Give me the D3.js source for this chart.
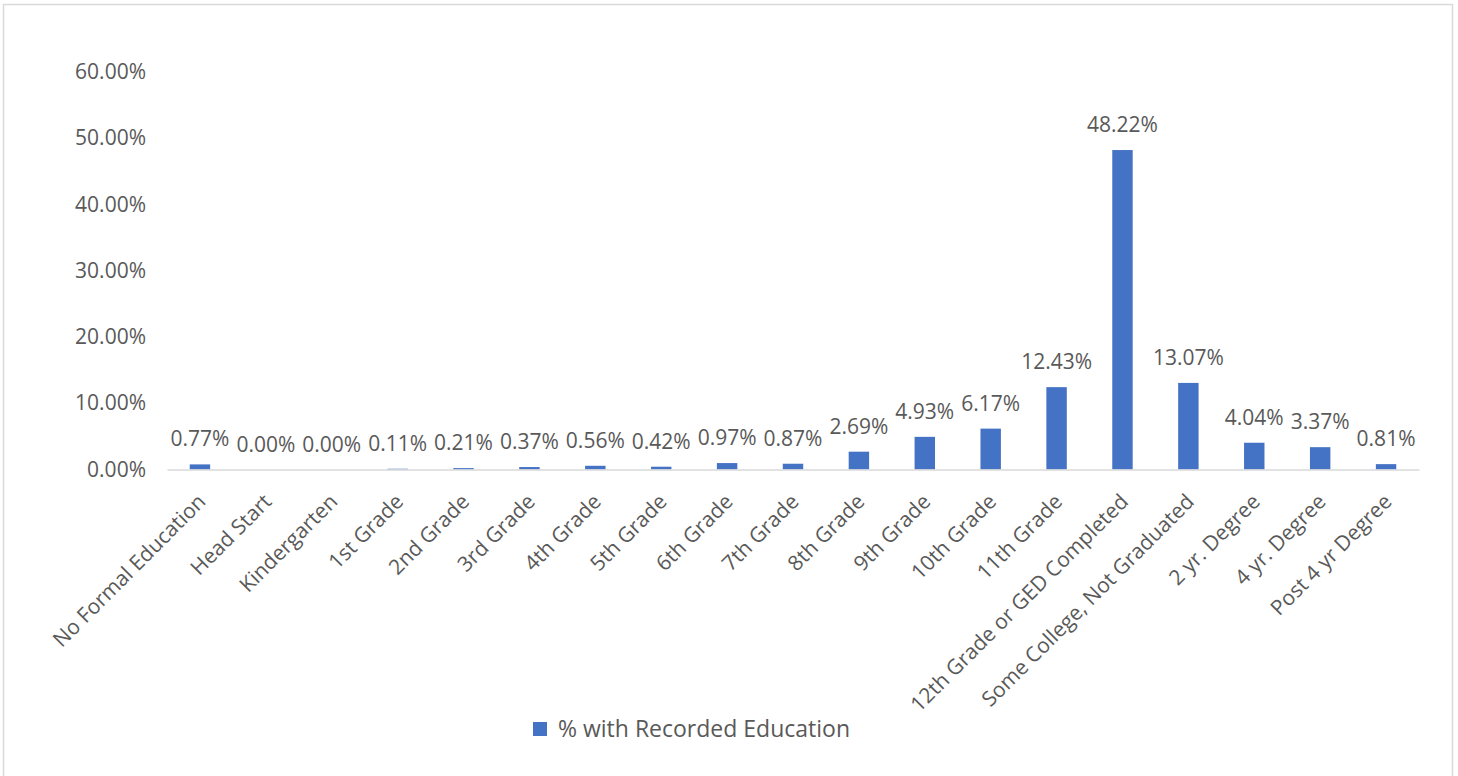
<!DOCTYPE html>
<html>
<head>
<meta charset="utf-8">
<script src="https://cdn.jsdelivr.net/npm/d3@7"></script>
<style>
  html, body { margin: 0; padding: 0; background: #ffffff; }
  svg { display: block; }
  text { font-family: "Open Sans", "Noto Sans", sans-serif; fill: #595959; }
</style>
</head>
<body>
<svg id="chart" width="1458" height="776"></svg>
<script>
// Education levels shown along the x axis
const categories = [
  "No Formal Education", "Head Start", "Kindergarten", "1st Grade", "2nd Grade",
  "3rd Grade", "4th Grade", "5th Grade", "6th Grade", "7th Grade", "8th Grade",
  "9th Grade", "10th Grade", "11th Grade", "12th Grade or GED Completed",
  "Some College, Not Graduated", "2 yr. Degree", "4 yr. Degree", "Post 4 yr Degree"
];
// Share of people with each recorded education level (percent)
const values = [
  0.77, 0.00, 0.00, 0.11, 0.21, 0.37, 0.56, 0.42, 0.97, 0.87, 2.69,
  4.93, 6.17, 12.43, 48.22, 13.07, 4.04, 3.37, 0.81
];
const yTicks = [0, 10, 20, 30, 40, 50, 60];
const seriesName = "% with Recorded Education";

const svg = d3.select("#chart");
const barColor = "#4472C4";
const fontSize = 21;

// outer chart frame
svg.append("rect")
  .attr("x", 3.5).attr("y", 4.5)
  .attr("width", 1449).attr("height", 790)
  .attr("fill", "#fff").attr("stroke", "#D9D9D9").attr("stroke-width", 1.5);

const plot = { left: 167, right: 1419, top: 72, bottom: 469.5 };

const x = d3.scaleBand()
  .domain(categories)
  .range([plot.left, plot.right])
  .paddingInner(0.69)
  .paddingOuter(0.345);

const y = d3.scaleLinear()
  .domain([0, 60])
  .range([plot.bottom, plot.top]);

// y axis labels (no line, no gridlines)
const yAxis = d3.axisLeft(y)
  .tickValues(yTicks)
  .tickSize(0)
  .tickPadding(0)
  .tickFormat(d => d3.format(".2f")(d) + "%");

const yg = svg.append("g")
  .attr("transform", `translate(146,0)`)
  .call(yAxis);
yg.select(".domain").remove();
yg.selectAll("text")
  .attr("font-size", fontSize)
  .attr("fill", "#595959")
  .style("font-family", "'Open Sans', sans-serif");

// bars
svg.append("g").selectAll("rect")
  .data(values)
  .join("rect")
  .attr("x", (d, i) => x(categories[i]))
  .attr("y", d => y(d))
  .attr("width", x.bandwidth())
  .attr("height", d => y(0) - y(d))
  .attr("fill", barColor);

// category axis line
const xAxis = d3.axisBottom(x).tickSize(0).tickFormat("");
const xg = svg.append("g")
  .attr("transform", `translate(0,${plot.bottom})`)
  .call(xAxis);
xg.select(".domain")
  .attr("stroke", "#D9D9D9")
  .attr("stroke-width", 1.5);

// rotated category labels
svg.append("g").selectAll("text")
  .data(categories)
  .join("text")
  .attr("text-anchor", "end")
  .attr("font-size", fontSize)
  .attr("transform", d => {
    const cx = x(d) + x.bandwidth() / 2 + 7;
    return `translate(${cx},503) rotate(-45)`;
  })
  .text(d => d);

// value labels above the bars
svg.append("g").selectAll("text")
  .data(values)
  .join("text")
  .attr("text-anchor", "middle")
  .attr("font-size", fontSize)
  .attr("x", (d, i) => x(categories[i]) + x.bandwidth() / 2)
  .attr("y", d => y(d) - 18)
  .text(d => d3.format(".2f")(d) + "%");

// legend
const lg = svg.append("g").attr("transform", "translate(533,722)");
lg.append("rect")
  .attr("width", 14).attr("height", 14)
  .attr("fill", barColor);
lg.append("text")
  .attr("x", 25).attr("y", 7)
  .attr("dy", "0.35em")
  .attr("font-size", 23)
  .text(seriesName);
</script>
</body>
</html>
